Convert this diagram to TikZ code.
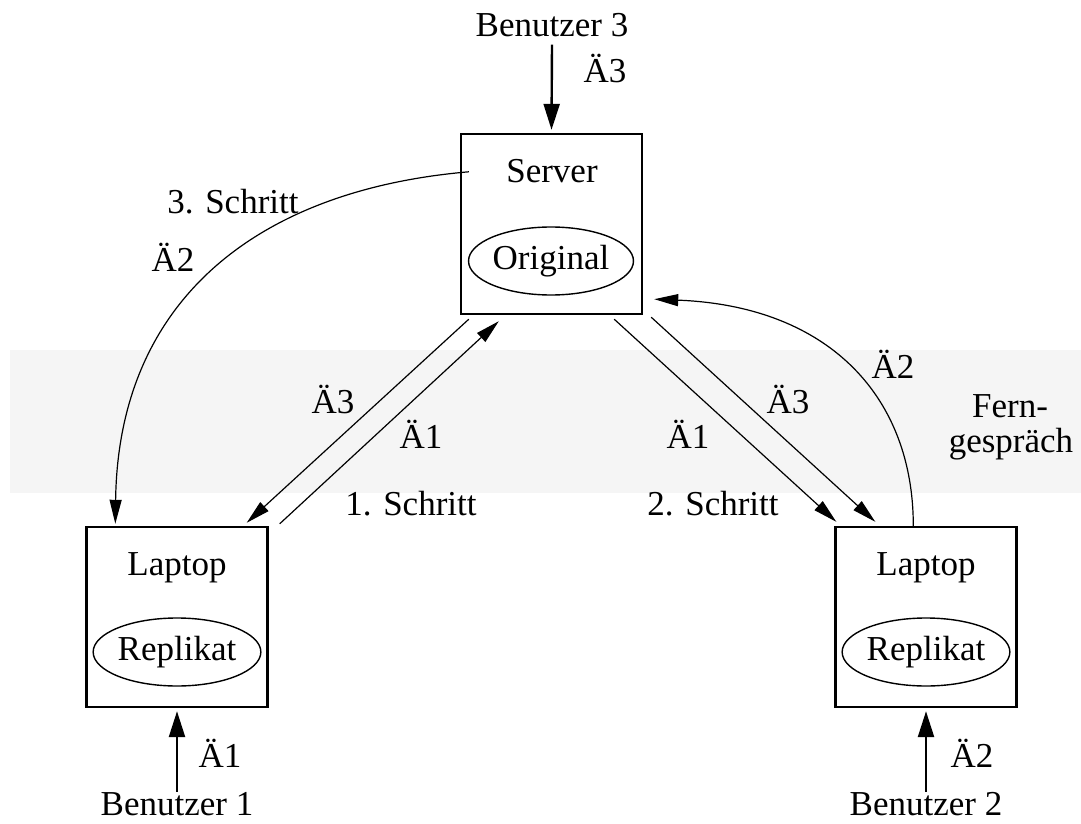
\documentclass[tikz,border=0pt]{standalone}
\usepackage{fontspec}
\setmainfont{Liberation Serif}
\usetikzlibrary{arrows.meta,shapes.geometric}
\definecolor{bandgray}{RGB}{245,245,245}
\begin{document}
\begin{tikzpicture}[x=1pt,y=-1pt,
  every node/.style={font=\fontsize{35}{35}\selectfont, inner sep=0pt},
  lbl/.style={anchor=base},
  hostbox/.style={draw, line width=2.4pt, minimum width=181pt, minimum height=180pt},
  datastore/.style={draw, ellipse, line width=1.4pt, minimum width=157pt, minimum height=68pt},
  flow/.style={line width=1.2pt, -{Triangle[length=24pt,width=12pt]}},
  userflow/.style={line width=2.4pt, -{Triangle[length=26pt,width=16pt]}},
  ]
\useasboundingbox (0,0) rectangle (1081,824);
% long-distance zone
\fill[bandgray] (10,350) rectangle (1081,493);

% machines
\node[hostbox] (srv) at (551.5,224) {};
\node[hostbox] (lapA) at (177,617) {};
\node[hostbox] (lapB) at (926,617) {};

\node[lbl] (srvname) at (552,182) {Server};
\node[datastore] (orig) at (551,261) {Original};
\node[lbl] (lapAname) at (177,575) {Laptop};
\node[datastore] (repA) at (177,652) {Replikat};
\node[lbl] (lapBname) at (926,575) {Laptop};
\node[datastore] (repB) at (926,652) {Replikat};

% users
\node[lbl] (u3) at (552,37) {Benutzer 3};
\node[lbl] (u1) at (177,815) {Benutzer 1};
\node[lbl] (u2) at (926,815) {Benutzer 2};

\draw[userflow] ([yshift=-7pt]u3.south) -- ([yshift=3pt]srv.north);
\draw[userflow] (u1.north) -- ([yshift=-3pt]lapA.south);
\draw[userflow] (u2.north) -- ([yshift=-3pt]lapB.south);

% synchronisation flows
\draw[flow] ([xshift=9pt,yshift=-4pt]srv.south west) -- ([xshift=-22pt,yshift=3pt]lapA.north east);
\draw[flow] ([xshift=11pt,yshift=2pt]lapA.north east) -- ([xshift=39pt,yshift=-6pt]srv.south west);
\draw[flow] ([xshift=-29pt,yshift=-4pt]srv.south east) -- ([xshift=2pt,yshift=4pt]lapB.north west);
\draw[flow] ([xshift=8pt,yshift=-2pt]srv.south east) -- ([xshift=41pt,yshift=4pt]lapB.north west);
\draw[flow] ([xshift=79pt]lapB.north west) .. controls +(0,-127) and +(177,7) .. ([xshift=11pt,yshift=16pt]srv.south east);
\draw[flow] ([xshift=9pt,yshift=-39pt]srv.north west) .. controls +(-210,18) and +(3,-225) .. ([xshift=30pt,yshift=2pt]lapA.north west);

% labels
\node[lbl] (c3top) at (605,83) {Ä3};
\node[lbl] (step3) at (233,213) {3. Schritt};
\node[lbl] (c2left) at (173,271) {Ä2};
\node[lbl] (c3left) at (333,413) {Ä3};
\node[lbl] (c1left) at (421,448) {Ä1};
\node[lbl] (step1) at (411,515) {1. Schritt};
\node[lbl] (step2) at (713,515) {2. Schritt};
\node[lbl] (c1right) at (688,448) {Ä1};
\node[lbl] (c3right) at (788,413) {Ä3};
\node[lbl] (c2right) at (893,378) {Ä2};
\node[lbl] (fernA) at (1010,417) {Fern-};
\node[lbl] (fernB) at (1011,452) {gespräch};
\node[lbl] (c1bot) at (220,767) {Ä1};
\node[lbl] (c2bot) at (972,767) {Ä2};
\end{tikzpicture}
\end{document}
